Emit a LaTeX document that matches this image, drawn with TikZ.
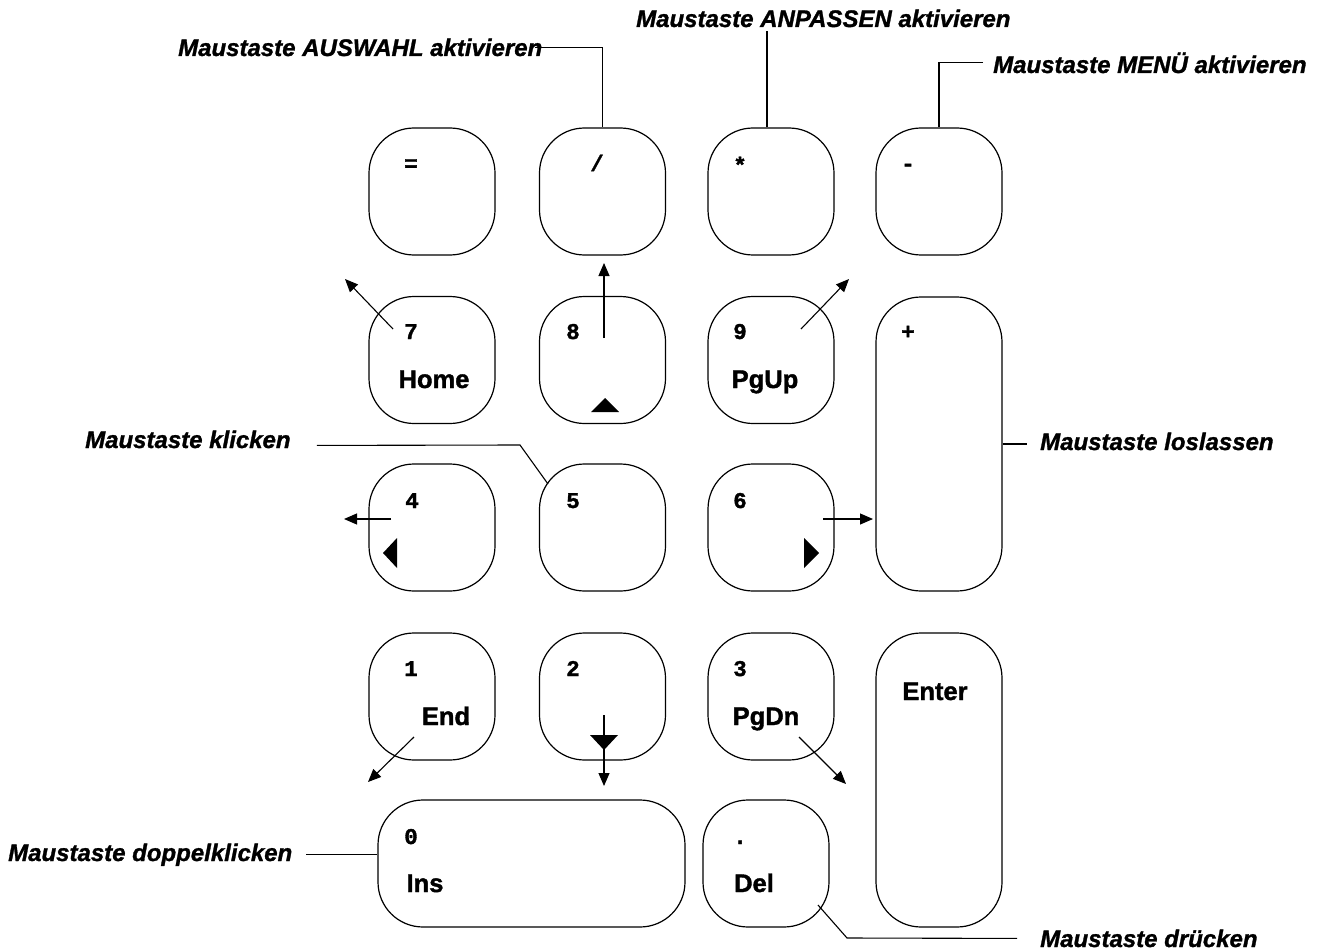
\documentclass[tikz,border=0pt]{standalone}
\usepackage{fontspec}
\setmainfont{Liberation Sans}
\newfontfamily\keymono{Liberation Mono}[UprightFont={* Bold}, FakeBold=1.5]
\newfontfamily\keybold{Liberation Sans}[UprightFont={* Bold}, FakeBold=1.5]
\newfontfamily\calloutfont{Liberation Sans}[UprightFont={* Bold Italic}, FakeBold=1.2]
\usetikzlibrary{arrows.meta}
\begin{document}
\begin{tikzpicture}[x=1pt,y=-1pt,
  key/.style={draw, line width=1.2pt, rounded corners=45pt, inner sep=0pt, minimum width=126pt, minimum height=127pt},
  num/.style={font=\fontsize{22.5}{22.5}\keymono, inner sep=0pt, anchor=base},
  kname/.style={font=\fontsize{25.5}{25.5}\keybold, inner sep=0pt, anchor=base},
  callout/.style={font=\fontsize{24}{24}\calloutfont, inner sep=0pt, anchor=base west},
  conn/.style={line width=1.1pt},
  arr/.style={line width=1.1pt, -{Triangle[length=13pt,width=11pt]}}
]
\useasboundingbox (0,0) rectangle (1327,952);
% keys
\node[key] (keq) at (432,191.5) {};
\node[key] (kslash) at (602.5,191.5) {};
\node[key] (kstar) at (771,191.5) {};
\node[key] (kminus) at (939,191.5) {};
\node[key] (k7) at (432,360) {};
\node[key] (k8) at (602.5,360) {};
\node[key] (k9) at (771,360) {};
\node[key, minimum height=294pt] (kplus) at (939,444) {};
\node[key] (k4) at (432,527.5) {};
\node[key] (k5) at (602.5,527.5) {};
\node[key] (k6) at (771,527.5) {};
\node[key] (k1) at (432,696.5) {};
\node[key] (k2) at (602.5,696.5) {};
\node[key] (k3) at (771,696.5) {};
\node[key, minimum height=294pt] (kenter) at (939,780) {};
\node[key, minimum width=307pt] (k0) at (531.5,863.5) {};
\node[key] (kdel) at (766,863.5) {};
% key numbers
\node[num] (neq) at (411,171) {=};
\node[num] (nslash) at (597,171) {/};
\node[num] (nstar) at (740,173) {*};
\node[num] (nminus) at (908,171) {-};
\node[num] (n7) at (411,339) {7};
\node[num] (n8) at (573,339) {8};
\node[num] (n9) at (740,339) {9};
\node[num] (nplus) at (908,339) {+};
\node[num] (n4) at (412,508) {4};
\node[num] (n5) at (573,508) {5};
\node[num] (n6) at (740,508) {6};
\node[num] (n1) at (411,676) {1};
\node[num] (n2) at (573,676) {2};
\node[num] (n3) at (740,676) {3};
\node[num] (n0) at (411,844) {0};
\node[num] (ndot) at (740,844) {.};
% key names
\node[kname] (thome) at (434,388) {Home};
\node[kname] (tpgup) at (765,388) {PgUp};
\node[kname] (tend) at (446,725) {End};
\node[kname] (tpgdn) at (766,725) {PgDn};
\node[kname] (tenter) at (935,700) {Enter};
\node[kname] (tins) at (425,892) {Ins};
\node[kname] (tdel) at (754,892) {Del};
% triangles
\fill (605,398) -- (591,412) -- (619,412) -- cycle;
\fill (383,553) -- (397,538) -- (397,568) -- cycle;
\fill (819,553) -- (804,538) -- (804,568) -- cycle;
\fill (604,750) -- (590,735) -- (618,735) -- cycle;
% arrows
\coordinate (a7s) at (393,329); \coordinate (a7e) at (345,279);
\coordinate (a8s) at (604,338); \coordinate (a8e) at (604,263);
\coordinate (a9s) at (801,329); \coordinate (a9e) at (849,279);
\coordinate (a4s) at (391,519); \coordinate (a4e) at (344,519);
\coordinate (a6s) at (823,519); \coordinate (a6e) at (873,519);
\coordinate (a1s) at (414,737); \coordinate (a1e) at (368,782);
\coordinate (a2s) at (604,715); \coordinate (a2e) at (604,786);
\coordinate (a3s) at (799,737); \coordinate (a3e) at (846,784);
\draw[arr] (a7s) -- (a7e);
\draw[arr] (a8s) -- (a8e);
\draw[arr] (a9s) -- (a9e);
\draw[arr] (a4s) -- (a4e);
\draw[arr] (a6s) -- (a6e);
\draw[arr] (a1s) -- (a1e);
\draw[arr] (a2s) -- (a2e);
\draw[arr] (a3s) -- (a3e);
% callouts
\node[callout] (caus) at (178,56) {Maustaste AUSWAHL aktivieren};
\node[callout] (canp) at (636,27) {Maustaste ANPASSEN aktivieren};
\node[callout] (cmenu) at (993,73) {Maustaste MENÜ aktivieren};
\node[callout] (cklick) at (85,448) {Maustaste klicken};
\node[callout] (closl) at (1040,450) {Maustaste loslassen};
\node[callout] (cdopp) at (8,861) {Maustaste doppelklicken};
\node[callout] (cdrk) at (1040,947) {Maustaste drücken};
% callout connectors
\draw[conn] ([xshift=-8pt]caus.east) -| (kslash.north);
\draw[conn] ([xshift=-4pt]kstar.north) -- ([xshift=-4pt,yshift=-4pt]kstar.north |- canp.south);
\draw[conn] ([xshift=-10pt]cmenu.west) -| (kminus.north);
\coordinate (klbend) at (520,445);
\coordinate (k5hit) at (548,484);
\draw[conn] (cklick.east) ++(26,6) -- (klbend) -- (k5hit);
\draw[conn] (kplus.east) -- ([xshift=-13pt]kplus.east -| closl.west);
\draw[conn] ([xshift=14pt]cdopp.east) -- (cdopp.east -| k0.west);
\coordinate (delhit) at (818,905);
\draw[conn] (delhit) -- ++(29,33) -- ([xshift=-23pt]cdrk.west);
\end{tikzpicture}
\end{document}
